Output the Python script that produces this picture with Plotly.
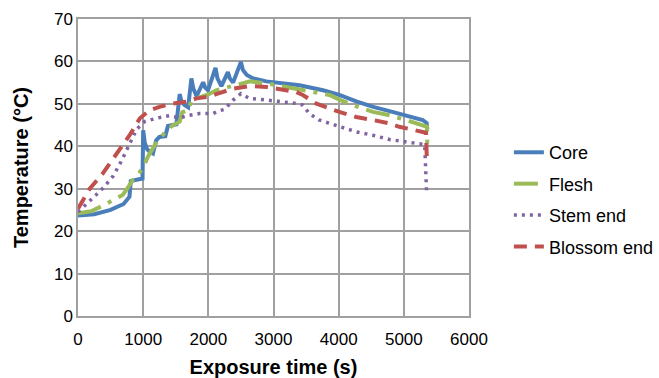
import plotly.graph_objects as go

# Exposure time (s) / temperature (°C)
core_t = [0, 250, 500, 700, 790, 810, 900, 990, 1000, 1025, 1060, 1100, 1150, 1200, 1250, 1340,
          1380, 1510, 1560, 1585, 1630, 1690, 1740, 1770, 1820, 1920, 1950, 1995, 2110, 2140,
          2200, 2300, 2330, 2380, 2500, 2530, 2590, 2690, 2890, 3150, 3400, 3760, 4010, 4270,
          4530, 4780, 5010, 5290, 5350, 5360]
core_v = [23.7, 24.0, 25.0, 26.4, 28.1, 31.8, 32.1, 32.4, 43.8, 40.8, 39.3, 38.7, 38.3, 41.4, 42.2, 42.4,
          44.8, 45.2, 52.3, 50.8, 49.8, 49.2, 56.0, 53.6, 51.8, 55.1, 53.9, 53.2, 58.5, 56.0,
          54.2, 57.5, 56.0, 55.0, 59.9, 58.0, 56.8, 56.0, 55.3, 54.9, 54.4, 53.2, 52.1, 50.6,
          49.3, 48.3, 47.3, 46.2, 45.5, 44.0]

flesh_t = [0, 200, 380, 560, 690, 770, 840, 920, 1000, 1075, 1150, 1230, 1300, 1360, 1460, 1560,
           1600, 1700, 1740, 1900, 2000, 2120, 2320, 2530, 2640, 2900, 3150, 3400, 3650, 3860,
           4010, 4270, 4525, 4780, 5010, 5290, 5355, 5360]
flesh_v = [24.2, 24.7, 26.0, 27.4, 28.6, 30.4, 32.0, 33.3, 35.0, 37.6, 39.6, 41.6, 42.6, 43.8, 45.0, 45.8,
           48.0, 48.6, 50.9, 51.6, 52.2, 53.2, 54.0, 54.8, 55.3, 54.8, 54.1, 53.6, 52.8, 52.1,
           51.0, 49.4, 48.1, 47.3, 46.3, 45.0, 44.6, 40.3]

stem_t = [0, 150, 280, 400, 540, 665, 790, 900, 1020, 1200, 1400, 1560, 1710, 1860, 2070, 2150,
          2250, 2380, 2500, 2630, 2890, 3140, 3350, 3450, 3550, 3700, 4010, 4270, 4525, 4780,
          5140, 5320, 5350]
stem_v = [24.5, 26.6, 28.6, 30.4, 33.0, 36.5, 40.5, 44.0, 45.8, 46.6, 47.2, 46.7, 47.3, 47.7, 47.7, 48.3,
          48.7, 50.9, 52.4, 51.3, 50.9, 50.5, 50.1, 49.7, 47.7, 46.2, 44.6, 43.4, 42.6, 41.6,
          40.8, 40.4, 28.9]

blossom_t = [0, 50, 180, 380, 640, 800, 950, 1100, 1250, 1460, 1660, 1820, 2020, 2120, 2380, 2630,
             2890, 3140, 3350, 3450, 3650, 4010, 4270, 4525, 4780, 4930, 5140, 5340, 5355]
blossom_v = [25.3, 26.5, 30.0, 33.6, 39.1, 42.8, 46.6, 48.5, 49.3, 50.1, 50.5, 51.3, 51.7, 52.3, 53.6, 54.2,
             54.0, 53.3, 52.8, 52.1, 50.1, 48.1, 46.9, 46.2, 45.4, 44.6, 44.0, 43.2, 36.1]

x_ticks = [0, 1000, 2000, 3000, 4000, 5000, 6000]
y_ticks = [0, 10, 20, 30, 40, 50, 60, 70]

series = [
    ("Core", core_t, core_v, "#4a7ebb", "solid", 4),
    ("Flesh", flesh_t, flesh_v, "#9bbb59", "24px,8px,4px,8px", 4),
    ("Stem end", stem_t, stem_v, "#8064a2", "3px,5px", 3.5),
    ("Blossom end", blossom_t, blossom_v, "#c0504d", "13px,8px", 4),
]

fig = go.Figure()
for name, t, v, color, dash, w in series:
    fig.add_trace(go.Scatter(x=t, y=v, mode="lines", name=name, legendgroup=name,
                             line=dict(color=color, width=w, dash=dash)))

grid = "#a0a0a0"
fig.update_layout(
    width=659, height=378,
    margin=dict(l=78, r=190, t=19, b=62, autoexpand=False),
    paper_bgcolor="white", plot_bgcolor="white",
    font=dict(family="Liberation Sans, Arial, sans-serif", color="black", size=17),
    legend=dict(x=1.102, xanchor="left", y=0.392, yanchor="middle",
                font=dict(size=18), tracegroupgap=5, bgcolor="rgba(0,0,0,0)"),
    xaxis=dict(range=[0, 6000], tickvals=x_ticks, showgrid=True, gridcolor=grid, gridwidth=1.5,
               showline=True, linecolor=grid, linewidth=1.5, mirror=True, zeroline=False,
               ticks="", tickfont=dict(size=17), automargin=False, ticklabelstandoff=7,
               title=dict(text="<b>Exposure time (s)</b>", font=dict(size=20), standoff=12)),
    yaxis=dict(range=[0, 70], tickvals=y_ticks, showgrid=True, gridcolor=grid, gridwidth=1.5,
               showline=True, linecolor=grid, linewidth=1.5, mirror=True, zeroline=False,
               ticks="", tickfont=dict(size=17), automargin=False,
               title=dict(text="<b>Temperature (°C)</b>", font=dict(size=20), standoff=20)),
)

fig.write_html("out.html", config={"displayModeBar": False},
               post_script="document.body.style.margin='0';document.body.style.overflow='hidden';")
